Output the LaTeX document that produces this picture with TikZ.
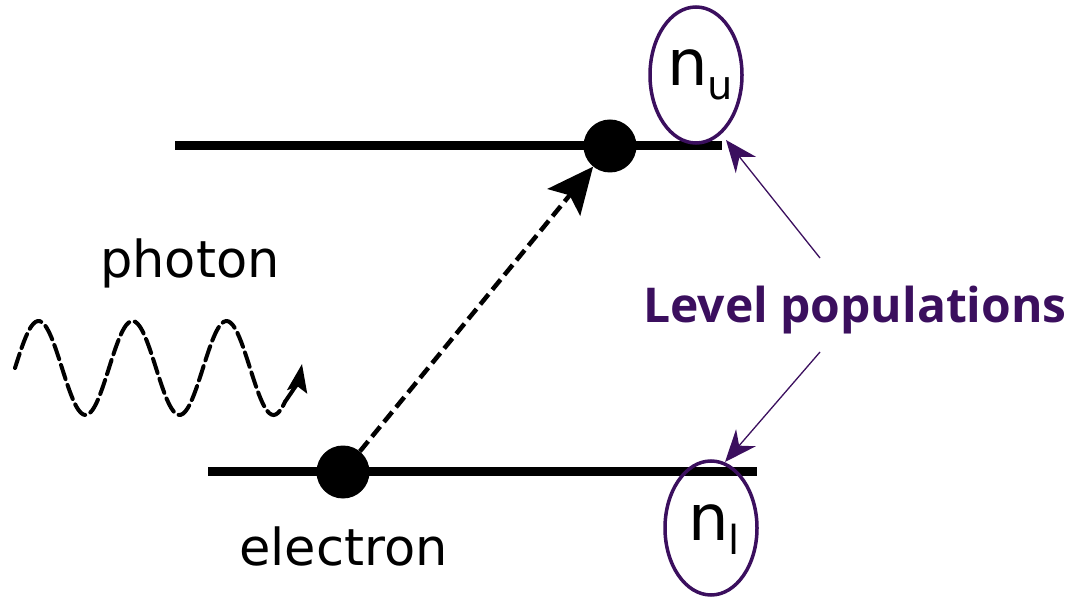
\documentclass[tikz,border=0pt]{standalone}
\usepackage{fontspec}
\setmainfont{DejaVu Sans}
\newfontfamily\lblfont{Open Sans}
\usetikzlibrary{arrows.meta,shapes.geometric}
\definecolor{pop}{HTML}{3B0F5E}
\tikzset{
  level/.style={line width=9pt},
  dot/.style={circle,fill=black,inner sep=0pt,minimum size=53pt},
  ring/.style={draw=pop,line width=3.5pt,ellipse},
  poparrow/.style={draw=pop,line width=1.3pt,-{Stealth[length=32pt,width=26pt]}},
  wlabel/.style={font=\fontsize{51}{53}\selectfont,inner sep=0pt,anchor=base west}
}
\begin{document}
\begin{tikzpicture}[x=1pt,y=-1pt]
\useasboundingbox (0,0) rectangle (1071,601);
% energy levels
\coordinate (ua) at (175,146);
\coordinate (ub) at (722,146);
\coordinate (la) at (208,471);
\coordinate (lb) at (757,471);
\draw[level] (ua) -- (ub);
\draw[level] (la) -- (lb);
\node[dot] (up) at (610,146) {};
\node[dot] (lo) at (343,472) {};
\draw[line width=4.5pt,dash pattern=on 13pt off 6pt,-{Stealth[length=46pt,width=42pt,inset=9pt]}] (lo) -- (up);
% photon wave
\draw[line width=4pt,dash pattern=on 15pt off 6pt,line cap=round] plot[domain=15:285,samples=120,smooth] (\x,{368-47*sin(3.8298*(\x-15))});
\coordinate (w0) at (285,{368-47*sin(3.8298*270)});
\coordinate (wt) at (302,364);
\draw[line width=4pt,-{Stealth[length=28pt,width=20pt,inset=5pt]}] (w0) to[out=55,in=-100] (wt);
% texts
\node[wlabel] (ph) at (100,278) {photon};
\node[wlabel] (el) at (239,565) {electron};
\node[ring,minimum width=92pt,minimum height=136pt,inner sep=0pt] (nu) at (696,75) {};
\node[ring,minimum width=92pt,minimum height=134pt,inner sep=0pt] (nl) at (711,528) {};
\node[font=\fontsize{64}{66}\selectfont,inner sep=0pt] (nut) at (700,75) {n\raisebox{-14pt}{\fontsize{40}{42}\selectfont u}};
\node[font=\fontsize{64}{66}\selectfont,inner sep=0pt] (nlt) at (714,530) {n\raisebox{-14pt}{\fontsize{40}{42}\selectfont l}};
\node[font=\lblfont\bfseries\fontsize{48}{50}\selectfont,text=pop,inner sep=0pt,anchor=base west] (lp) at (643,323) {Level populations};
\coordinate (a1) at (820,258);
\coordinate (a2) at (820,352);
\draw[poparrow] (a1) -- (726,140);
\draw[poparrow] (a2) -- (725,462);
\end{tikzpicture}
\end{document}
